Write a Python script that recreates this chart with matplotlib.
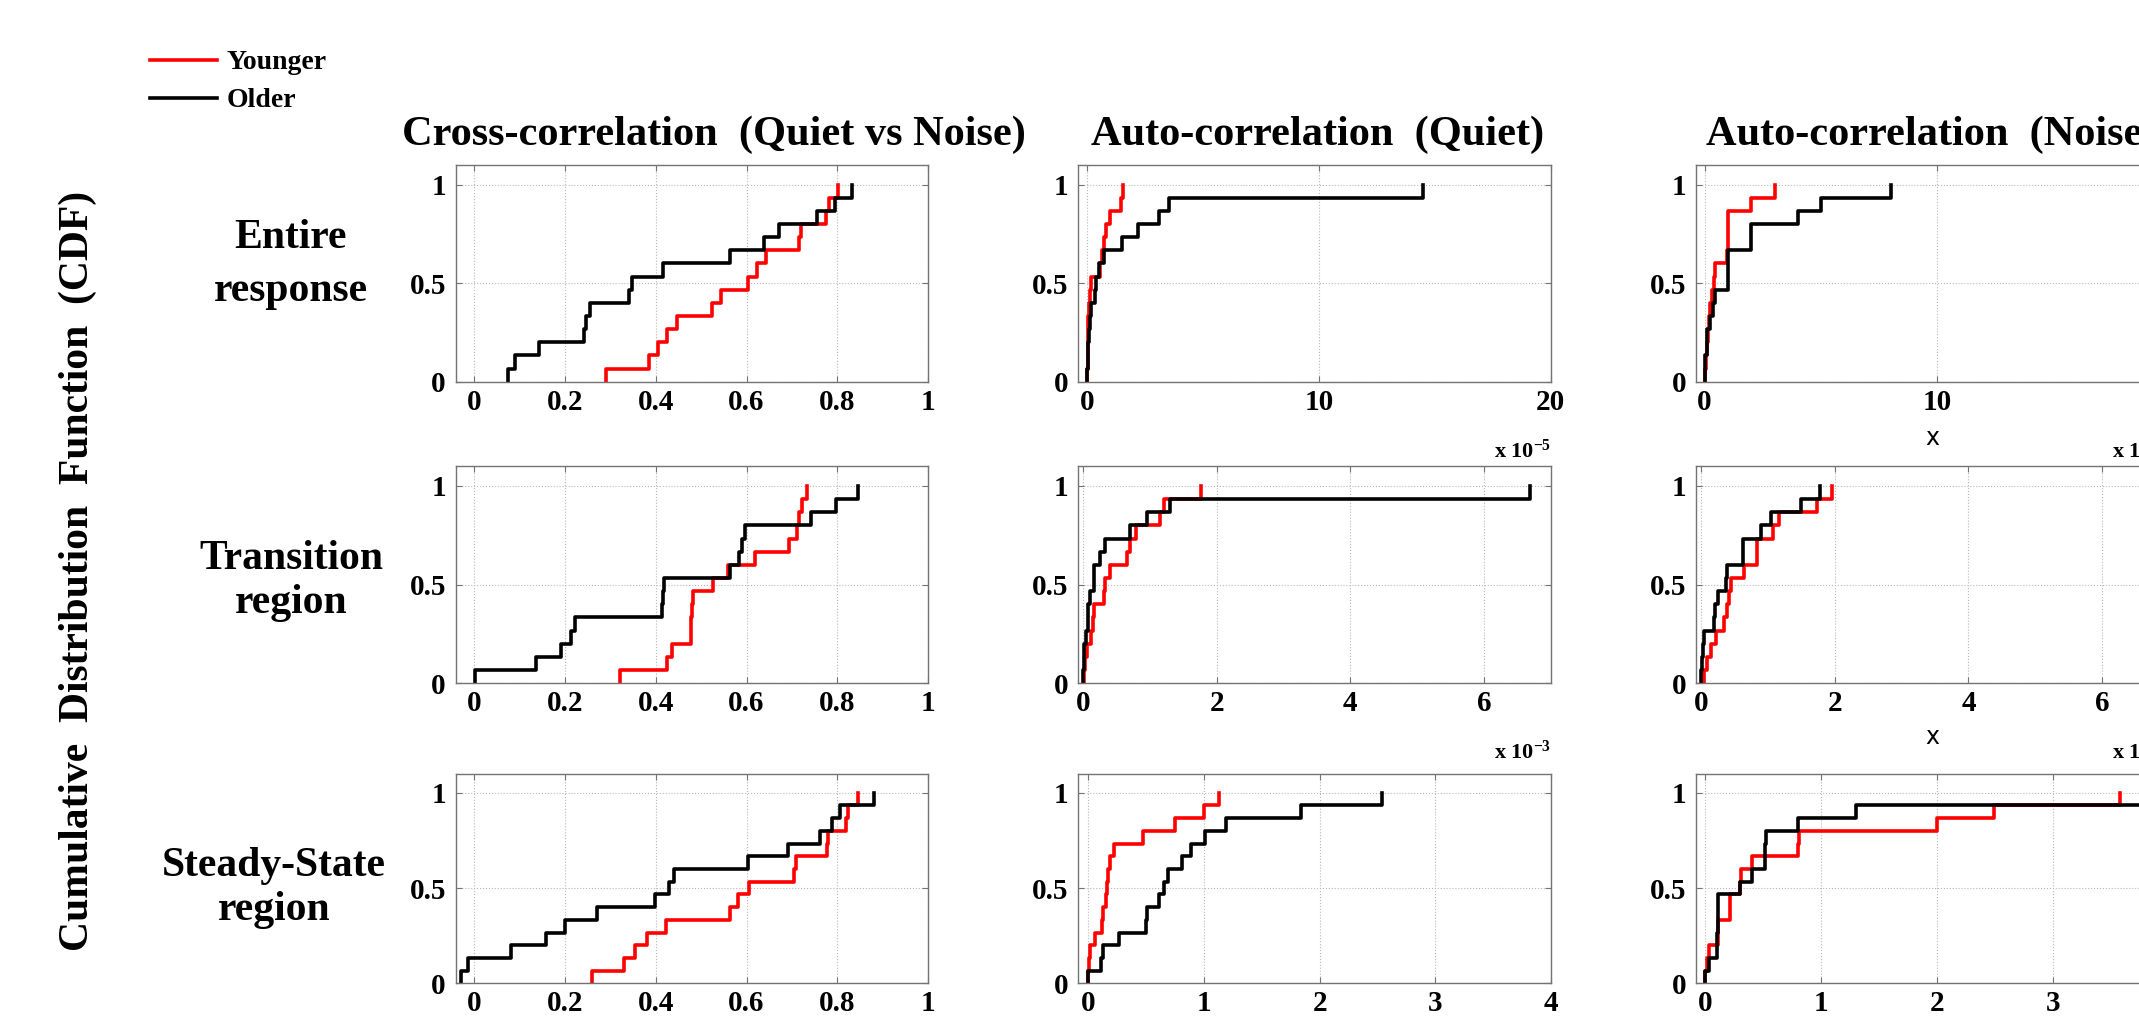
import numpy as np
import matplotlib.pyplot as plt
from matplotlib.ticker import FuncFormatter

plt.rcParams['font.family'] = ['Liberation Serif', 'DejaVu Serif']
plt.rcParams['font.weight'] = 'bold'
plt.rcParams['mathtext.default'] = 'regular'

# sample values behind each empirical CDF (15 per group)
# cross-correlation (quiet vs noise)
cc_entire_young = [0.291, 0.385, 0.405, 0.425, 0.448, 0.524, 0.544, 0.603, 0.623, 0.643, 0.716, 0.720, 0.774, 0.782, 0.802]
cc_entire_old = [0.075, 0.091, 0.143, 0.242, 0.247, 0.255, 0.341, 0.349, 0.417, 0.563, 0.639, 0.671, 0.756, 0.794, 0.833]
cc_trans_young = [0.322, 0.424, 0.436, 0.477, 0.478, 0.480, 0.482, 0.527, 0.560, 0.618, 0.694, 0.712, 0.716, 0.722, 0.734]
cc_trans_old = [0.002, 0.136, 0.192, 0.213, 0.223, 0.414, 0.416, 0.418, 0.563, 0.583, 0.590, 0.596, 0.742, 0.797, 0.845]
cc_steady_young = [0.259, 0.330, 0.354, 0.380, 0.422, 0.563, 0.582, 0.606, 0.704, 0.709, 0.777, 0.780, 0.818, 0.823, 0.845]
cc_steady_old = [-0.029, -0.013, 0.082, 0.158, 0.200, 0.271, 0.398, 0.429, 0.441, 0.604, 0.691, 0.762, 0.788, 0.806, 0.880]

# auto-correlation (quiet); entire in 1e-5, transition/steady in 1e-3
acq_entire_young = [0.0, 0.01, 0.02, 0.03, 0.05, 0.07, 0.10, 0.18, 0.56, 0.62, 0.70, 0.80, 1.00, 1.45, 1.52]
acq_entire_old = [0.0, 0.02, 0.05, 0.09, 0.13, 0.17, 0.33, 0.36, 0.50, 0.73, 1.49, 2.19, 3.10, 3.51, 14.49]
acq_trans_young = [0.01, 0.03, 0.06, 0.12, 0.15, 0.17, 0.31, 0.33, 0.41, 0.66, 0.70, 0.79, 1.15, 1.21, 1.76]
acq_trans_old = [0.0, 0.01, 0.02, 0.05, 0.07, 0.08, 0.10, 0.16, 0.17, 0.25, 0.33, 0.70, 0.95, 1.30, 6.69]
acq_steady_young = [0.0, 0.005, 0.01, 0.06, 0.12, 0.13, 0.15, 0.16, 0.17, 0.19, 0.22, 0.47, 0.75, 1.00, 1.13]
acq_steady_old = [0.0, 0.11, 0.13, 0.26, 0.50, 0.51, 0.61, 0.65, 0.69, 0.81, 0.89, 1.01, 1.19, 1.84, 2.54]

# auto-correlation (noise)
acn_entire_young = [0.02, 0.06, 0.12, 0.15, 0.20, 0.25, 0.30, 0.42, 0.45, 0.98, 0.99, 1.00, 1.01, 2.00, 3.05]
acn_entire_old = [0.0, 0.03, 0.09, 0.12, 0.22, 0.36, 0.46, 1.00, 1.01, 1.02, 2.00, 2.02, 4.03, 5.00, 8.03]
acn_trans_young = [0.04, 0.09, 0.15, 0.22, 0.34, 0.39, 0.41, 0.45, 0.64, 0.83, 0.84, 1.07, 1.17, 1.74, 1.95]
acn_trans_old = [0.0, 0.01, 0.02, 0.04, 0.19, 0.20, 0.25, 0.37, 0.38, 0.62, 0.63, 0.90, 1.04, 1.49, 1.78]
acn_steady_young = [0.0, 0.01, 0.03, 0.11, 0.11, 0.21, 0.21, 0.30, 0.31, 0.40, 0.80, 0.81, 2.00, 2.49, 3.58]
acn_steady_old = [0.0, 0.03, 0.10, 0.10, 0.105, 0.11, 0.11, 0.30, 0.40, 0.51, 0.51, 0.52, 0.80, 1.30, 3.95]

col_titles = ['Cross-correlation  (Quiet vs Noise)', 'Auto-correlation  (Quiet)', 'Auto-correlation  (Noise)']
row_labels = ['Entire\nresponse', 'Transition\nregion', 'Steady-State\nregion']
series_names = ['Younger', 'Older']
y_ticks = [0, 0.5, 1]

# panels[row][col] = (young, old, xticks)
panels = [
    [(cc_entire_young, cc_entire_old, [0, 0.2, 0.4, 0.6, 0.8, 1]),
     (acq_entire_young, acq_entire_old, [0, 10, 20]),
     (acn_entire_young, acn_entire_old, [0, 10, 20])],
    [(cc_trans_young, cc_trans_old, [0, 0.2, 0.4, 0.6, 0.8, 1]),
     (acq_trans_young, acq_trans_old, [0, 2, 4, 6]),
     (acn_trans_young, acn_trans_old, [0, 2, 4, 6])],
    [(cc_steady_young, cc_steady_old, [0, 0.2, 0.4, 0.6, 0.8, 1]),
     (acq_steady_young, acq_steady_old, [0, 1, 2, 3, 4]),
     (acn_steady_young, acn_steady_old, [0, 1, 2, 3, 4])],
]
xlims = [
    [(-0.04, 1), (-0.4, 20), (-0.36, 20)],
    [(-0.04, 1), (-0.075, 7), (-0.075, 7)],
    [(-0.04, 1), (-0.09, 4), (-0.08, 4)],
]

W, H = 2139, 1018
fig = plt.figure(figsize=(W / 100, H / 100), dpi=100)

col_left = [0.213, 0.504, 0.793]
col_w = 0.221
row_bottom = [0.625, 0.329, 0.034]
row_h = [0.213, 0.213, 0.206]


def cdf_stairs(ax, vals, color):
    v = np.sort(np.asarray(vals, dtype=float))
    n = len(v)
    xs = np.r_[v[0], v]
    ys = np.arange(n + 1) / n
    return ax.step(xs, ys, where='post', color=color, lw=2.6)[0]


fmt = FuncFormatter(lambda v, p: '%g' % v)
handles = None
for r in range(3):
    for c in range(3):
        young, old, xt = panels[r][c]
        ax = fig.add_axes([col_left[c], row_bottom[r], col_w, row_h[r]])
        h_y = cdf_stairs(ax, young, 'red')
        h_o = cdf_stairs(ax, old, 'black')
        if handles is None:
            handles = [h_y, h_o]
        ax.set_xlim(*xlims[r][c])
        ax.set_ylim(0, 1.1)
        ax.set_xticks(xt)
        ax.set_yticks(y_ticks)
        ax.xaxis.set_major_formatter(fmt)
        ax.yaxis.set_major_formatter(fmt)
        ax.grid(True, linestyle=':', color='0.72', linewidth=0.8)
        ax.set_axisbelow(True)
        for s in ax.spines.values():
            s.set_color('0.45')
            s.set_linewidth(1.0)
        ax.tick_params(direction='in', length=4, width=0.8, color='0.45',
                       top=True, right=True, labelsize=21)
        ax.tick_params(axis='x', pad=5)
        ax.tick_params(axis='y', pad=7)

# exponent labels under the auto-correlation panels
fig.text(1551 / W, 1 - 458 / H, 'x 10$^{-5}$', ha='right', va='baseline', fontsize=16)
fig.text(1551 / W, 1 - 759 / H, 'x 10$^{-3}$', ha='right', va='baseline', fontsize=16)
fig.text(2169 / W, 1 - 458 / H, 'x 10$^{-5}$', ha='right', va='baseline', fontsize=16)
fig.text(2169 / W, 1 - 759 / H, 'x 10$^{-3}$', ha='right', va='baseline', fontsize=16)
fig.text(0.9035, 1 - 438 / H, 'x', ha='center', va='center', fontsize=17,
         family='DejaVu Sans', weight='normal')
fig.text(0.9035, 1 - 737 / H, 'x', ha='center', va='center', fontsize=17,
         family='DejaVu Sans', weight='normal')

# column titles
for x, t in zip([0.334, 0.616, 0.903], col_titles):
    fig.text(x, 1 - 145 / H, t, ha='center', va='baseline', fontsize=30.5)

# row labels
for x, y, ls, t in zip([0.136, 0.136, 0.128], [0.740, 0.429, 0.128], [1.5, 1.2, 1.2], row_labels):
    fig.text(x, y, t, ha='center', va='center', multialignment='center',
             fontsize=30, linespacing=ls)

fig.text(0.0365, 0.439, 'Cumulative  Distribution  Function  (CDF)', rotation=90,
         ha='center', va='center', fontsize=30)

fig.legend(handles, series_names, loc='upper left', bbox_to_anchor=(150 / W, 1 - 50 / H),
           frameon=False, fontsize=20, handlelength=2.4, handletextpad=0.35,
           labelspacing=0.45, borderpad=0, borderaxespad=0)

fig.savefig('out.png', dpi=100)
